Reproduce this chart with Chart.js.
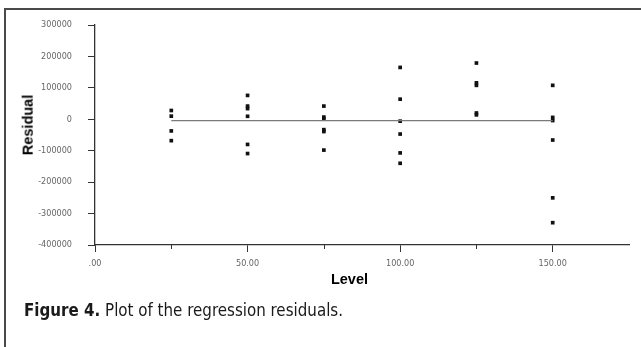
<!DOCTYPE html>
<html>
<head>
<meta charset="utf-8">
<script src="https://cdn.jsdelivr.net/npm/chart.js@4.4.1/dist/chart.umd.min.js"></script>
<style>
  html, body { margin: 0; padding: 0; background: #fff; }
  body { width: 641px; height: 347px; position: relative; overflow: hidden; }
  #frame { position: absolute; left: 4px; top: 8px; width: 650px; height: 400px;
           border-top: 2px solid #4a4a4a; border-left: 2px solid #4a4a4a; }
  #c { position: absolute; left: 0; top: 0; }
  .axt { position: absolute; font-family: 'Liberation Sans', Arial, sans-serif; font-weight: bold;
         font-size: 14.5px; color: #000; white-space: nowrap; line-height: 1.15; }
  #ytitle { left: 28.3px; top: 124.7px; transform: translate(-50%, -50%) rotate(-90deg); }
  #xtitle { left: 349.5px; top: 279px; transform: translate(-50%, -50%); }
  #caption { position: absolute; left: 24px; top: 301px; font-size: 18px; line-height: 18px;
             font-family: 'Liberation Sans Narrow', 'DejaVu Sans Condensed', 'Liberation Sans', sans-serif;
             color: #1a1a1a; white-space: nowrap; transform-origin: 0 0; }
  #caption b { font-weight: bold; }
</style>
</head>
<body>
<div id="frame"></div>
<canvas id="c" width="641" height="347"></canvas>
<div id="ytitle" class="axt">Residual</div>
<div id="xtitle" class="axt">Level</div>
<div id="caption"><b>Figure 4.</b> Plot of the regression residuals.</div>
<script>
// ---- data ----
const levels = [25, 50, 75, 100, 125, 150];
const residualsAt25  = [28000, 10000, -37000, -68000];
const residualsAt50  = [76000, 42000, 34000, 9500, -80000, -109000];
const residualsAt75  = [42000, 7000, 1000, -33000, -39000, -98000];
const residualsAt100 = [165000, 64000, -6000, -47000, -107000, -140000];
const residualsAt125 = [179000, 116000, 108000, 20000, 14000];
const residualsAt150 = [108000, 6000, -4000, -66000, -250000, -329000];
const fitLineX = [25, 150];
const fitLineY = [-4000, -4000];
const xTickValues = [0, 50, 100, 150];
const xTickLabels = ['.00', '50.00', '100.00', '150.00'];
const xMinorTicks = [25, 75, 125];
const yTickValues = [300000, 200000, 100000, 0, -100000, -200000, -300000, -400000];
const yTickLabels = ['300000', '200000', '100000', '0', '-100000', '-200000', '-300000', '-400000'];

const groups = [residualsAt25, residualsAt50, residualsAt75, residualsAt100, residualsAt125, residualsAt150];
const points = [];
groups.forEach((g, i) => g.forEach(r => points.push({ x: levels[i], y: r })));
const fitLine = fitLineX.map((x, i) => ({ x: x, y: fitLineY[i] }));

const tickFont = { family: "'Liberation Sans Narrow', 'DejaVu Sans Condensed', sans-serif", size: 9 };

const minorTicks = {
  id: 'minorTicks',
  afterDraw(chart) {
    const xs = chart.scales.x, ctx = chart.ctx, b = chart.chartArea.bottom;
    ctx.save();
    ctx.strokeStyle = '#333';
    ctx.lineWidth = 1;
    xMinorTicks.forEach(v => {
      const px = Math.round(xs.getPixelForValue(v)) + 0.5;
      ctx.beginPath(); ctx.moveTo(px, b); ctx.lineTo(px, b + 4); ctx.stroke();
    });
    ctx.restore();
  }
};

new Chart(document.getElementById('c'), {
  type: 'scatter',
  data: {
    datasets: [
      { type: 'line', data: fitLine, borderColor: '#7a7a7a', borderWidth: 1.2, pointRadius: 0, fill: false, tension: 0 },
      { data: points, pointStyle: 'rect', pointRadius: 2.6, pointBorderWidth: 0, backgroundColor: '#111', borderColor: '#111' }
    ]
  },
  options: {
    responsive: false,
    animation: false,
    devicePixelRatio: 1,
    layout: { padding: { top: 25, right: 12, left: 0, bottom: 0 } },
    plugins: { legend: { display: false }, tooltip: { enabled: false } },
    scales: {
      x: {
        type: 'linear', min: 0, max: 175,
        afterBuildTicks: s => { s.ticks = xTickValues.map(v => ({ value: v })); },
        afterFit: s => { s.height = 102; },
        ticks: { font: tickFont, color: '#666', padding: 6, maxRotation: 0, autoSkip: false,
                 callback: v => xTickLabels[xTickValues.indexOf(v)] },
        grid: { drawOnChartArea: false, drawTicks: true, tickLength: 7, color: '#333', lineWidth: 1 },
        border: { display: true, color: '#333', width: 1.3 }
      },
      y: {
        type: 'linear', min: -400000, max: 300000,
        afterBuildTicks: s => { s.ticks = yTickValues.map(v => ({ value: v })); },
        afterFit: s => { s.width = 95; },
        ticks: { font: tickFont, color: '#666', padding: 16, autoSkip: false,
                 callback: v => yTickLabels[yTickValues.indexOf(v)] },
        grid: { drawOnChartArea: false, drawTicks: true, tickLength: 7, color: '#333', lineWidth: 1 },
        border: { display: true, color: '#333', width: 1.3 }
      }
    }
  },
  plugins: [minorTicks]
});

function fitCaption() {
  const cap = document.getElementById('caption');
  cap.style.transform = 'none';
  const w = cap.getBoundingClientRect().width;
  if (w > 0) cap.style.transform = 'scaleX(' + (319 / w) + ')';
}
fitCaption();
if (document.fonts && document.fonts.ready) document.fonts.ready.then(fitCaption);
</script>
</body>
</html>
